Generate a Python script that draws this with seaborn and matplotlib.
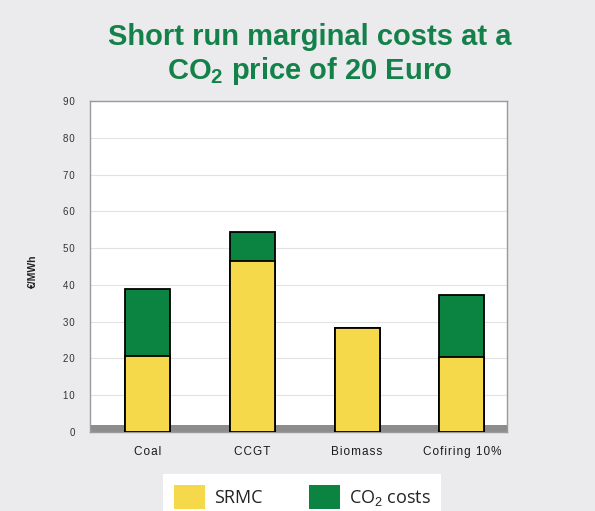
import matplotlib
matplotlib.use('Agg')
import matplotlib.pyplot as plt
from matplotlib.patches import Patch
import seaborn as sns
import pandas as pd

# data
categories = ['Coal', 'CCGT', 'Biomass', 'Cofiring 10%']
srmc = [20.8, 46.5, 28.2, 20.5]
co2_costs = [18.0, 8.0, 0.0, 16.8]
yticks = [0, 10, 20, 30, 40, 50, 60, 70, 80, 90]

df = pd.DataFrame({'fuel': categories, 'SRMC': srmc, 'CO2': co2_costs})
df['total'] = df['SRMC'] + df['CO2']

yellow = '#f6d94a'
green = '#0c8441'
title_green = '#15814a'


def spaced(s):
    # the original labels are letter-spaced
    return '\u200a'.join(s)


sns.set_style('white')
plt.rcParams['font.family'] = ['Liberation Sans', 'DejaVu Sans']
plt.rcParams['mathtext.fontset'] = 'custom'
plt.rcParams['mathtext.rm'] = 'Liberation Sans'
plt.rcParams['mathtext.bf'] = 'Liberation Sans:bold'

fig = plt.figure(figsize=(5.95, 5.11), dpi=100, facecolor='#ebebee')
ax = fig.add_axes([0.151, 0.1546, 0.701, 0.6477])
ax.set_facecolor('white')

# floor of the chart
ax.axhspan(0, 2, color='#8c8c8c', zorder=0.5, lw=0)

sns.barplot(data=df, x='fuel', y='total', color=green, edgecolor='black',
            linewidth=1.3, width=0.43, saturation=1, ax=ax, zorder=2)
sns.barplot(data=df, x='fuel', y='SRMC', color=yellow, edgecolor='black',
            linewidth=1.3, width=0.43, saturation=1, ax=ax, zorder=3)

ax.set_xlim(-0.55, 3.43)
ax.set_ylim(0, 90)
ax.set_yticks(yticks)
ax.set_yticklabels([spaced(str(v)) for v in yticks], fontsize=7, color='#333333')
ax.set_xticks(range(len(categories)))
ax.set_xticklabels([spaced(c) for c in categories], fontsize=8.5, color='#1a1a1a')
ax.tick_params(axis='y', length=0, pad=11)
ax.tick_params(axis='x', length=0, pad=10)
ax.set_xlabel('')
ax.set_ylabel('')
ax.yaxis.grid(True, color='#e2e2e2', lw=0.8)
ax.set_axisbelow(True)
for s in ax.spines.values():
    s.set_color('#9a9a9a')
    s.set_linewidth(1.0)

fig.text(0.055, 0.47, '€/MWh', rotation=90, fontsize=7.5, fontweight='bold',
         ha='center', va='center', color='#222222')

fig.text(0.52, 0.927, 'Short run marginal costs at a', fontsize=21,
         fontweight='bold', color=title_green, ha='center', va='center')
fig.text(0.52, 0.861, r'CO$_\mathbf{2}$ price of 20 Euro', fontsize=21,
         fontweight='bold', color=title_green, ha='center', va='center')

handles = [Patch(facecolor=yellow, edgecolor='none', label='SRMC'),
           Patch(facecolor=green, edgecolor='none', label=r'CO$_2$ costs')]
leg = fig.legend(handles=handles, loc='lower center', bbox_to_anchor=(0.508, -0.035),
                 ncol=2, frameon=True, framealpha=1, fontsize=13, handlelength=1.7,
                 handleheight=1.7, columnspacing=2.6, borderpad=0.6,
                 handletextpad=0.5, fancybox=False)
leg.get_frame().set_facecolor('white')
leg.get_frame().set_edgecolor('none')
for t in leg.get_texts():
    t.set_family(['Open Sans', 'DejaVu Sans'])
    t.set_color('#222222')

fig.savefig('out.png', dpi=100, facecolor=fig.get_facecolor())
